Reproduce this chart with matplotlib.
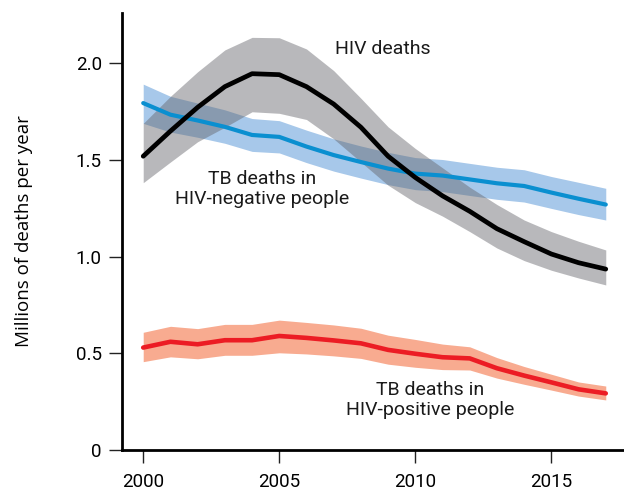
import matplotlib
matplotlib.use("Agg")
import matplotlib.pyplot as plt

years = list(range(2000, 2018))

hiv_deaths = [1.52, 1.65, 1.773, 1.88, 1.947, 1.942, 1.88, 1.79, 1.67, 1.52, 1.41, 1.315, 1.235, 1.145, 1.078, 1.014, 0.969, 0.936]
hiv_low = [1.383, 1.49, 1.595, 1.67, 1.75, 1.742, 1.71, 1.61, 1.49, 1.37, 1.28, 1.21, 1.13, 1.045, 0.98, 0.93, 0.89, 0.854]
hiv_high = [1.69, 1.83, 1.957, 2.07, 2.135, 2.133, 2.075, 1.963, 1.82, 1.672, 1.56, 1.46, 1.36, 1.27, 1.19, 1.13, 1.08, 1.035]

tb_neg = [1.795, 1.735, 1.705, 1.672, 1.63, 1.62, 1.57, 1.526, 1.49, 1.456, 1.43, 1.42, 1.40, 1.38, 1.366, 1.332, 1.30, 1.27]
tb_neg_low = [1.69, 1.645, 1.618, 1.587, 1.545, 1.537, 1.487, 1.443, 1.407, 1.373, 1.347, 1.337, 1.317, 1.297, 1.283, 1.25, 1.218, 1.19]
tb_neg_high = [1.893, 1.83, 1.795, 1.76, 1.715, 1.704, 1.655, 1.61, 1.573, 1.54, 1.513, 1.503, 1.483, 1.463, 1.45, 1.415, 1.385, 1.354]

tb_pos = [0.53, 0.56, 0.547, 0.568, 0.568, 0.59, 0.58, 0.567, 0.552, 0.518, 0.498, 0.48, 0.474, 0.423, 0.385, 0.35, 0.314, 0.293]
tb_pos_low = [0.457, 0.482, 0.472, 0.49, 0.49, 0.503, 0.497, 0.487, 0.474, 0.444, 0.428, 0.416, 0.414, 0.372, 0.34, 0.31, 0.279, 0.259]
tb_pos_high = [0.609, 0.64, 0.628, 0.65, 0.65, 0.672, 0.66, 0.647, 0.63, 0.594, 0.572, 0.548, 0.534, 0.478, 0.432, 0.392, 0.352, 0.331]

yticks = [0, 0.5, 1.0, 1.5, 2.0]
ytick_labels = ["0", "0.5", "1.0", "1.5", "2.0"]
xticks = [2000, 2005, 2010, 2015]
xtick_labels = ["2000", "2005", "2010", "2015"]

plt.rcParams['font.family'] = ['Roboto', 'DejaVu Sans']

fig = plt.figure(figsize=(6.24, 4.91), dpi=100)
ax = fig.add_axes([0.1955, 0.0835, 0.8045, 0.89])

ax.fill_between(years, tb_neg_low, tb_neg_high, color='#a7c8ea', lw=0, zorder=1)
ax.fill_between(years, hiv_low, hiv_high, color=(0.39, 0.39, 0.41), alpha=0.45, lw=0, zorder=2)
ax.fill_between(years, tb_pos_low, tb_pos_high, color='#f8ab90', lw=0, zorder=2)

ax.plot(years, tb_neg, color='#0a8fd0', lw=3.0, solid_capstyle='round', zorder=3)
ax.plot(years, hiv_deaths, color='black', lw=3.4, solid_capstyle='round', zorder=4)
ax.plot(years, tb_pos, color='#ec1c24', lw=3.3, solid_capstyle='round', zorder=4)

ax.set_xlim(1999.22, 2017.67)
ax.set_ylim(0, 2.261)
ax.set_yticks(yticks)
ax.set_yticklabels(ytick_labels)
ax.set_xticks(xticks)
ax.set_xticklabels(xtick_labels)

for s in ['top', 'right']:
    ax.spines[s].set_visible(False)
for s in ['left', 'bottom']:
    ax.spines[s].set_linewidth(2.0)
ax.tick_params(axis='both', length=9.5, width=1.0, labelsize=13.5, color='#222222')
ax.tick_params(axis='y', pad=5)
ax.tick_params(axis='x', pad=7)

ax.set_ylabel("Millions of deaths per year", fontsize=13.5, labelpad=31,
              family=['Open Sans', 'DejaVu Sans'])

ax.text(2008.8, 2.077, "HIV deaths", fontsize=14, ha='center', va='center', color='#1a1a1a')
ax.text(2004.37, 1.35, "TB deaths in\nHIV-negative people", fontsize=14, ha='center', va='center',
        linespacing=1.15, color='#1a1a1a')
ax.text(2010.54, 0.259, "TB deaths in\nHIV-positive people", fontsize=14, ha='center', va='center',
        linespacing=1.15, color='#1a1a1a')

fig.savefig("out.png", dpi=100)
